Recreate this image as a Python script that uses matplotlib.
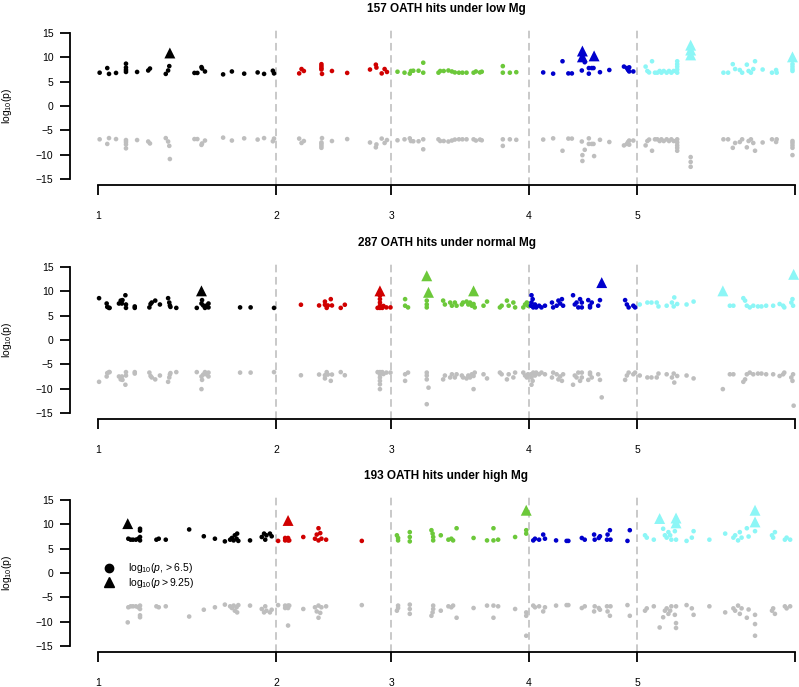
import numpy as np
import matplotlib
matplotlib.use("Agg")
import matplotlib.pyplot as plt
from matplotlib.lines import Line2D

plt.rcParams['font.family'] = ['Liberation Sans', 'DejaVu Sans']
plt.rcParams['mathtext.fontset'] = 'custom'
plt.rcParams['mathtext.rm'] = 'Liberation Sans'
plt.rcParams['mathtext.it'] = 'Liberation Sans:italic'
plt.rcParams['mathtext.bf'] = 'Liberation Sans:bold'

# Chromosome starts (cumulative Mb) and end of genome
chrom_labels = ['1', '2', '3', '4', '5']
chrom_starts = [0.0, 30.43, 50.13, 73.59, 92.17]
genome_end = 119.15
chrom_colors = ['#000000', '#D00000', '#6CC83A', '#0000CC', '#8CF6F6']
mirror_color = '#BEBEBE'
tri_threshold = 9.25

titles = ['157 OATH hits under low Mg',
          '287 OATH hits under normal Mg',
          '193 OATH hits under high Mg']

# ---- low Mg: cumulative position (Mb), -log10 p ----
pos_low = [0.3, 1.6, 1.9, 3.1, 4.8, 4.8, 4.8, 4.8, 6.7, 8.6, 8.9, 12.3, 12.2, 12.0, 11.6,
           16.5, 17.0, 17.7, 17.8, 18.3, 21.4, 22.9, 25.0, 27.3, 28.4, 29.9, 30.1,
           34.4, 34.8, 35.2, 38.2, 38.2, 38.2, 38.2, 38.3, 40.0, 42.6, 46.5, 47.5, 47.6,
           48.5, 49.0, 49.4,
           51.2, 52.4, 53.3, 53.5, 53.9, 54.8, 55.6, 55.6, 58.2, 58.5, 59.1, 59.9, 60.5,
           61.0, 61.7, 62.3, 63.0, 64.2, 64.6, 65.3, 65.6, 69.2, 69.2, 70.4, 71.5,
           76.1, 77.8, 79.4, 80.4, 81.0, 82.7, 82.8, 82.8, 83.2, 83.9, 83.9, 84.4, 84.7,
           84.8, 85.8, 87.4, 89.9, 90.4, 90.6, 90.8, 90.8, 91.5,
           93.6, 94.7, 94.2, 93.9, 95.2, 95.6, 96.0, 96.3, 96.7, 97.2, 97.6, 98.0, 98.4,
           99.0, 99.0, 99.0, 99.0, 99.0, 101.3, 101.3, 101.3, 106.9, 107.7, 108.5, 108.9,
           109.7, 110.1, 110.9, 111.2, 111.6, 112.0, 112.3, 113.6, 115.2, 115.9, 116.0,
           118.7, 118.7, 118.7, 118.7, 118.7]
lp_low = [6.85, 7.8, 6.6, 6.8, 8.7, 7.9, 7.4, 7.0, 7.0, 7.3, 7.7, 10.9, 8.2, 7.3, 6.6,
          6.8, 6.8, 8.0, 7.7, 7.1, 6.5, 7.1, 6.65, 6.9, 6.6, 7.25, 6.7,
          6.7, 7.6, 7.2, 8.6, 8.2, 7.8, 7.5, 6.6, 7.2, 6.8, 7.5, 8.5, 7.9,
          6.7, 7.6, 7.0,
          7.05, 6.85, 6.65, 7.2, 7.25, 7.25, 8.9, 6.85, 6.85, 7.2, 7.2, 7.3, 7.1,
          6.9, 6.85, 6.85, 6.85, 6.85, 7.1, 6.9, 7.05, 8.2, 6.85, 6.85, 6.95,
          6.9, 6.65, 9.2, 6.7, 6.7, 7.3, 11.3, 10.1, 9.0, 7.8, 6.65, 7.8, 7.8,
          10.3, 6.95, 7.4, 8.1, 7.8, 7.4, 7.95, 7.1, 7.1,
          8.1, 9.2, 6.9, 7.2, 6.85, 6.85, 7.2, 6.85, 7.2, 6.85, 7.2, 6.85, 7.2,
          9.2, 8.6, 8.1, 7.5, 6.85, 12.5, 11.5, 10.5, 6.85, 6.85, 8.6, 7.6,
          7.4, 6.85, 8.5, 7.2, 6.85, 7.6, 9.2, 7.5, 6.85, 7.4, 6.85,
          10.1, 8.6, 8.1, 7.6, 7.2]

# ---- normal Mg ----
pos_normal = [0.2, 1.5, 1.6, 1.9, 2.0, 3.6, 3.9, 4.1, 4.2, 4.7, 4.8, 4.8, 6.3, 6.3,
              8.8, 9.0, 9.2, 9.8, 10.6, 12.0, 12.2, 12.3, 12.4, 13.4, 16.9, 17.7, 17.8,
              17.7, 18.0, 18.3, 18.6, 18.9, 18.9, 24.3, 26.1, 30.1,
              34.7, 37.8, 38.8, 38.8, 39.1, 39.3, 39.8, 40.0, 41.5, 42.2, 48.2, 48.2, 48.2,
              48.2, 48.2, 48.2, 47.8, 48.6, 48.8, 49.3, 50.0,
              52.5, 52.5, 53.0, 56.2, 56.5, 56.2, 56.2, 56.2, 59.0, 59.3, 60.2, 60.5, 61.0,
              61.3, 62.2, 62.4, 63.0, 63.3, 63.6, 63.9, 64.2, 64.4, 64.2, 65.9, 66.5,
              68.7, 69.0, 69.9, 70.2, 71.0, 71.3, 72.7, 73.0, 73.3, 73.5,
              74.1, 74.3, 74.1, 74.0, 74.4, 74.7, 74.9, 75.4, 75.8, 76.4, 77.6, 77.8, 78.4,
              78.7, 79.0, 79.3, 79.5, 81.2, 81.5, 81.8, 82.1, 82.4, 82.7, 82.7, 83.8, 84.1,
              84.1, 84.4, 85.5, 85.8, 86.1, 90.1, 90.4, 90.7, 91.5, 91.8,
              92.6, 93.9, 94.6, 95.5, 95.8, 97.2, 98.1, 98.4, 98.5, 99.0, 100.6, 101.8,
              106.8, 108.0, 108.6, 110.3, 110.6, 110.9, 111.4, 112.0, 112.8, 113.4, 114.2,
              115.4, 116.5, 117.1, 117.3, 118.5, 118.8, 118.7, 118.9]
lp_normal = [8.6, 7.5, 6.8, 6.6, 6.6, 7.5, 8.1, 7.5, 8.2, 9.2, 7.3, 6.6, 6.9, 6.6,
             6.7, 7.4, 7.7, 8.1, 7.3, 8.6, 7.7, 7.1, 6.8, 6.6, 6.6, 10.1, 8.2,
             7.5, 7.1, 6.6, 7.1, 7.5, 6.7, 6.7, 6.7, 6.6,
             7.25, 7.1, 7.25, 7.9, 6.6, 7.1, 8.4, 7.1, 6.6, 7.25, 10.1, 9.1, 8.4,
             7.7, 7.05, 6.6, 6.6, 6.6, 7.0, 6.7, 6.7,
             8.4, 7.05, 6.7, 13.2, 9.8, 8.1, 7.3, 6.7, 8.1, 7.3, 7.7, 7.05, 7.7,
             7.05, 7.3, 7.7, 7.9, 7.3, 7.7, 7.05, 7.4, 6.7, 10.1, 7.05, 7.9,
             6.7, 7.05, 8.1, 7.05, 7.7, 6.7, 6.7, 7.3, 7.7, 7.05,
             9.2, 8.4, 7.7, 7.05, 6.7, 7.3, 6.7, 7.05, 6.7, 7.05, 7.7, 6.7, 7.05,
             8.1, 7.5, 8.4, 7.05, 9.2, 7.3, 7.7, 6.7, 8.4, 7.7, 6.7, 8.2, 7.05,
             6.7, 7.7, 7.05, 8.2, 11.8, 8.2, 7.3, 6.7, 7.05, 6.7,
             7.3, 7.7, 7.7, 7.7, 6.9, 7.05, 7.7, 6.9, 8.75, 7.4, 7.3, 7.9,
             10.1, 7.05, 7.05, 8.6, 8.1, 7.05, 6.7, 7.05, 6.9, 6.9, 7.05,
             7.05, 7.4, 7.05, 6.7, 7.7, 7.05, 8.4, 13.5]

# ---- high Mg ----
pos_high = [5.1, 5.2, 5.6, 6.0, 6.5, 6.9, 7.2, 7.2, 7.2, 7.2, 10.0, 10.4, 11.6, 15.6,
            18.1, 20.0, 21.7, 22.6, 22.9, 23.2, 23.4, 23.7, 23.8, 24.0, 26.0,
            28.0, 28.4, 28.6, 28.8, 29.4, 29.7,
            30.8, 32.5, 32.0, 32.0, 32.5, 32.5, 32.7, 35.1, 37.1, 37.4, 37.7, 37.7, 38.0,
            38.2, 39.0, 45.1,
            51.1, 51.3, 51.3, 53.3, 53.3, 53.3, 57.0, 57.2, 57.3, 57.3, 58.6, 59.9, 60.4,
            60.7, 61.3, 64.2, 66.5, 67.6, 67.6, 68.4, 71.3, 73.2, 73.2, 73.2,
            74.4, 74.7, 75.4, 76.1, 76.4, 78.3, 80.1, 80.4, 82.7, 83.2, 84.8, 84.9, 85.6,
            85.8, 87.0, 87.1, 87.5, 87.6, 90.5, 90.9,
            96.0, 98.8, 98.8, 112.3, 112.3,
            93.5, 93.8, 95.0, 96.6, 96.9, 97.2, 97.5, 97.8, 98.0, 98.6, 98.8, 100.6, 101.5,
            101.8, 104.5, 107.2, 108.6, 108.9, 109.4, 109.7, 110.0, 110.9, 111.2, 112.3,
            115.2, 115.4, 115.7, 117.4, 117.7, 118.3]
lp_high = [10.15, 7.05, 6.85, 6.85, 6.85, 7.05, 9.1, 8.7, 7.4, 6.7, 6.85, 7.05, 6.85, 8.95,
           7.55, 7.05, 6.5, 6.85, 7.2, 6.7, 7.75, 7.05, 8.1, 6.6, 6.7,
           7.4, 8.1, 6.85, 7.75, 8.1, 7.55,
           6.6, 10.8, 7.2, 6.7, 7.2, 6.7, 6.7, 7.4, 7.05, 7.9, 9.2, 6.7, 8.2,
           7.05, 6.85, 6.6,
           7.75, 7.2, 6.7, 8.4, 7.4, 6.5, 8.8, 8.1, 7.4, 6.7, 7.75, 6.85, 7.05,
           6.7, 9.2, 7.2, 6.7, 9.2, 6.7, 6.85, 7.4, 12.9, 8.8, 8.1,
           6.7, 7.05, 6.85, 7.9, 7.05, 6.7, 6.6, 6.6, 7.2, 6.85, 7.9, 6.85, 7.2,
           7.55, 6.85, 7.9, 8.8, 6.85, 6.6, 8.8,
           11.2, 11.3, 10.3, 12.9, 10.5,
           7.75, 7.27, 6.85, 9.1, 7.75, 7.27, 8.4, 7.75, 6.85, 8.6, 6.85, 6.6, 7.27,
           8.6, 6.85, 8.1, 7.27, 7.75, 6.7, 8.4, 7.27, 9.2, 7.5, 8.6,
           7.75, 7.27, 8.4, 6.85, 7.27, 6.85]

panels = [(pos_low, lp_low), (pos_normal, lp_normal), (pos_high, lp_high)]

W, H = 799, 687
fig = plt.figure(figsize=(W / 100, H / 100), dpi=100)

left_px, right_px = 70, 823
tops_px = [27.2, 261.2, 494.2]
height_px = 157.6

xpad = 0.04 * genome_end
for i, (pos, lp) in enumerate(panels):
    bottom = 1 - (tops_px[i] + height_px) / H
    ax = fig.add_axes([left_px / W, bottom, (right_px - left_px) / W, height_px / H])
    ax.set_xlim(-xpad, genome_end + xpad)
    ax.set_ylim(-16.2, 16.2)

    pos = np.asarray(pos, float)
    lp = np.asarray(lp, float)
    chrom = np.searchsorted(chrom_starts, pos, side='right') - 1
    cols = np.array(chrom_colors)[chrom]

    for b in chrom_starts[1:]:
        ax.axvline(b, color='#BBBBBB', lw=1.1, ls=(0, (5, 3)), zorder=1)

    # mirrored grey points
    ax.scatter(pos, -lp, s=11, c=mirror_color, edgecolors='none', zorder=2)
    dots = lp <= tri_threshold
    ax.scatter(pos[dots], lp[dots], s=11, c=cols[dots], edgecolors='none', zorder=3)
    tri = ~dots
    ax.scatter(pos[tri], lp[tri], s=62, marker='^', c=cols[tri], edgecolors='none', zorder=3)

    for side in ['top', 'right']:
        ax.spines[side].set_visible(False)
    ax.spines['left'].set_bounds(-15, 15)
    ax.spines['bottom'].set_bounds(0, genome_end)
    for side in ['left', 'bottom']:
        ax.spines[side].set_linewidth(1.3)
    ax.set_yticks([-15, -10, -5, 0, 5, 10, 15])
    ax.set_yticklabels(['\u221215', '\u221210', '\u22125', '0', '5', '10', '15'])
    ax.set_xticks(chrom_starts + [genome_end])
    ax.set_xticklabels(chrom_labels + [''])
    ax.tick_params(axis='y', direction='out', length=7, width=1.3, pad=5, labelsize=7.5)
    ax.tick_params(axis='x', direction='out', length=7, width=1.3, pad=12, labelsize=7.5)
    ax.set_title(titles[i], fontsize=8.5, fontweight='bold', pad=11)

    # y-axis label, centred on the panel
    ycen = 1 - (tops_px[i] + height_px / 2) / H
    fig.text(7 / W, ycen, 'log$_{10}$(p)', rotation=90, ha='center', va='center',
             fontsize=7.5)

    if i == 2:
        handles = [Line2D([], [], ls='none', marker='o', color='black', markersize=6),
                   Line2D([], [], ls='none', marker='^', color='black', markersize=7.5)]
        labels = [r'$\mathrm{log}_{10}\left(p, > 6.5\right)$',
                  r'$\mathrm{log}_{10}\left(p > 9.25\right)$']
        ax.legend(handles, labels, loc='upper left', bbox_to_anchor=(0.045, 0.575),
                  frameon=False, fontsize=7.5, handlelength=1.0, handletextpad=1.3,
                  borderaxespad=0, borderpad=0, labelspacing=0.05)

fig.savefig('out.png', dpi=100)
